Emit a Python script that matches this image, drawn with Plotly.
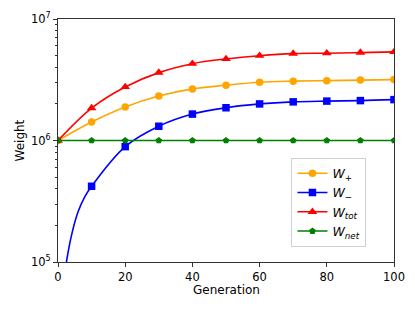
import plotly.graph_objects as go

generations = [0, 10, 20, 30, 40, 50, 60, 70, 80, 90, 100]
w_plus = [1.0e6, 1.42e6, 1.89e6, 2.32e6, 2.66e6, 2.85e6, 3.02e6, 3.08e6, 3.11e6, 3.14e6, 3.17e6]
w_minus = [0.0, 0.42e6, 0.89e6, 1.31e6, 1.65e6, 1.86e6, 2.0e6, 2.08e6, 2.11e6, 2.13e6, 2.17e6]
w_tot = [1.0e6, 1.85e6, 2.76e6, 3.62e6, 4.29e6, 4.69e6, 4.99e6, 5.19e6, 5.23e6, 5.29e6, 5.36e6]
w_net = [1.0e6] * 11

# early part of the W- curve (between generation 0 and 10)
w_minus_early_gen = [2.5, 4, 6, 8]
w_minus_early = [1.0e5, 1.65e5, 2.6e5, 3.45e5]

x_ticks = [0, 20, 40, 60, 80, 100]
y_ticks = [1e5, 1e6, 1e7]
y_tick_text = ["10<sup>5</sup>", "10<sup>6</sup>", "10<sup>7</sup>"]
y_minor = [m * 10 ** e for e in (5, 6) for m in range(2, 10)]

series = [
    ("<i>W</i><sub>+</sub>", "#FFA500", "circle", 7.5, generations, w_plus, generations, w_plus),
    ("<i>W</i><sub>−</sub>", "#0000FF", "square", 7.5,
     w_minus_early_gen + generations[1:], w_minus_early + w_minus[1:], generations[1:], w_minus[1:]),
    ("<i>W</i><sub><i>tot</i></sub>", "#FF0000", "triangle-up", 8.5, generations, w_tot, generations, w_tot),
    ("<i>W</i><sub><i>net</i></sub>", "#008000", "pentagon", 7, generations, w_net, generations, w_net),
]

FONT = "DejaVu Sans"

fig = go.Figure()
for name, color, symbol, size, lx, ly, mx, my in series:
    fig.add_trace(go.Scatter(x=lx, y=ly, mode="lines", line=dict(color=color, width=1.6, shape="spline"),
                             showlegend=False, hoverinfo="skip"))
    fig.add_trace(go.Scatter(x=mx, y=my, mode="markers", marker=dict(color=color, symbol=symbol, size=size),
                             showlegend=False))
for name, color, symbol, size, *_ in series:
    fig.add_trace(go.Scatter(x=[None], y=[None], mode="lines+markers", name=name,
                             line=dict(color=color, width=1.6),
                             marker=dict(color=color, symbol=symbol, size=size)))

axis_common = dict(showline=True, linecolor="#333", linewidth=1, mirror=True, ticks="outside",
                   ticklen=4, tickcolor="#333", showgrid=False, zeroline=False, automargin=False,
                   tickfont=dict(family=FONT, size=11.5, color="black"))

fig.update_xaxes(range=[0, 100], tickvals=x_ticks, **axis_common)
fig.update_yaxes(type="log", range=[5, 7], tickvals=y_ticks, ticktext=y_tick_text,
                 minor=dict(tickvals=y_minor, ticks="outside", ticklen=2, tickcolor="#333"),
                 **axis_common)

fig.add_annotation(text="Generation", x=0.5, y=0, xref="paper", yref="paper", showarrow=False,
                   xanchor="center", yanchor="middle", yshift=-28, font=dict(family=FONT, size=12, color="black"))
fig.add_annotation(text="Weight", x=0, y=0.5, xref="paper", yref="paper", showarrow=False, textangle=-90,
                   xanchor="center", yanchor="middle", xshift=-39, font=dict(family=FONT, size=12, color="black"))

fig.update_layout(
    width=415, height=311,
    margin=dict(l=58, r=21, t=19, b=49),
    paper_bgcolor="white", plot_bgcolor="white",
    font=dict(family=FONT, size=11.5, color="black"),
    legend=dict(x=0.918, y=0.063, xanchor="right", yanchor="bottom",
                bgcolor="white", bordercolor="#d0d0d0", borderwidth=1,
                font=dict(family=FONT, size=12.5), tracegroupgap=0, itemwidth=30),
)

fig.write_html("out.html", config={"displayModeBar": False},
               post_script="document.body.style.margin='0';document.body.style.overflow='hidden';")
